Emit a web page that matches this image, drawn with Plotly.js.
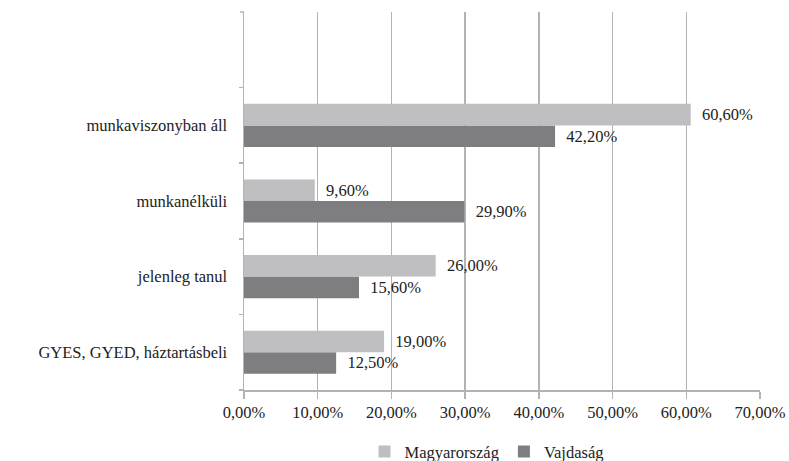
<!DOCTYPE html>
<html>
<head>
<meta charset="utf-8">
<script src="https://cdn.plot.ly/plotly-3.0.1.min.js"></script>
<style>html,body{margin:0;padding:0;background:#fff;}#chart{width:789px;height:461px;}</style>
</head>
<body>
<div id="chart"></div>
<script>
const categories = ["GYES, GYED, háztartásbeli", "jelenleg tanul", "munkanélküli", "munkaviszonyban áll"];
const magyarorszag = [19.0, 26.0, 9.6, 60.6];
const vajdasag = [12.5, 15.6, 29.9, 42.2];
const xTicks = [0, 10, 20, 30, 40, 50, 60, 70];

const fontFam = "Liberation Serif, DejaVu Serif, serif";
const fmt = v => v.toFixed(2).replace('.', ',') + '%';

const traces = [
  {
    type: 'bar', orientation: 'h', name: 'Vajdaság',
    y: categories, x: vajdasag,
    marker: {color: '#7e7e81'},
    text: vajdasag.map(v => '\u2002' + fmt(v)), textposition: 'outside', cliponaxis: false,
    textfont: {family: fontFam, size: 16.5, color: '#222'}
  },
  {
    type: 'bar', orientation: 'h', name: 'Magyarország',
    y: categories, x: magyarorszag,
    marker: {color: '#bfbfc1'},
    text: magyarorszag.map(v => '\u2002' + fmt(v)), textposition: 'outside', cliponaxis: false,
    textfont: {family: fontFam, size: 16.5, color: '#222'}
  }
];

const layout = {
  width: 789, height: 461,
  margin: {l: 244, r: 29, t: 12, b: 71, autoexpand: false},
  paper_bgcolor: '#fff', plot_bgcolor: '#fff',
  font: {family: fontFam, size: 16.5, color: '#222'},
  separators: ',.',
  barmode: 'group', bargap: 0.43, bargroupgap: 0,
  showlegend: true,
  legend: {orientation: 'h', traceorder: 'reversed', x: 0.47, xanchor: 'center',
           yref: 'container', y: 0.02, yanchor: 'middle', itemwidth: 30,
           font: {family: fontFam, size: 16.5, color: '#222'}},
  xaxis: {
    range: [0, 70], tickvals: xTicks, ticktext: xTicks.map(fmt),
    showgrid: true, gridcolor: '#b3b3b3', gridwidth: 1.5,
    showline: true, linecolor: '#b3b3b3', linewidth: 1.5,
    ticks: 'outside', ticklen: 7, tickcolor: '#b3b3b3', tickwidth: 1.5,
    zeroline: false, fixedrange: true
  },
  yaxis: {
    type: 'category', categoryorder: 'array', categoryarray: categories,
    range: [-0.5, 4.5], tickson: 'boundaries',
    showline: true, linecolor: '#b3b3b3', linewidth: 1.5,
    ticks: 'outside', ticklen: 4, tickcolor: '#b3b3b3', tickwidth: 1.5,
    showgrid: false, ticklabelstandoff: 12, fixedrange: true
  },
  shapes: [
    {type: 'line', xref: 'paper', yref: 'paper', x0: -0.008, x1: 0, y0: 1, y1: 1,
     line: {color: '#b3b3b3', width: 1.5}}
  ]
};

Plotly.newPlot('chart', traces, layout, {staticPlot: true});
</script>
</body>
</html>
